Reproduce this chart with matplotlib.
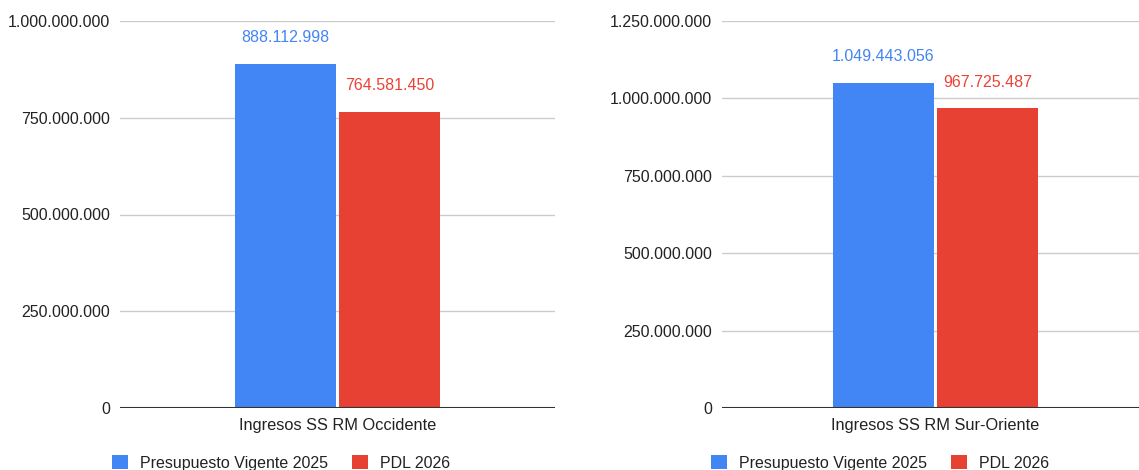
import matplotlib
matplotlib.use("Agg")
import matplotlib.pyplot as plt
from matplotlib.patches import Patch
from matplotlib.ticker import FuncFormatter

plt.rcParams['font.family'] = ['Liberation Sans', 'DejaVu Sans']

series = ["Presupuesto Vigente 2025", "PDL 2026"]
colors = ["#4285F4", "#E64133"]
label_colors = ["#4285F4", "#EA4335"]

categories_left = ["Ingresos SS RM Occidente"]
values_left = [888112998, 764581450]
ticks_left = [0, 250000000, 500000000, 750000000, 1000000000]

categories_right = ["Ingresos SS RM Sur-Oriente"]
values_right = [1049443056, 967725487]
ticks_right = [0, 250000000, 500000000, 750000000, 1000000000, 1250000000]

W, H = 1139, 470
fig = plt.figure(figsize=(W / 100, H / 100), dpi=100)

def fmt(v, _=None):
    return f"{int(round(v)):,}".replace(",", ".")

def draw(ax_rect, category, values, ticks, bar_w, off, legend_cx):
    ax = fig.add_axes(ax_rect)
    for i, (v, c, lc) in enumerate(zip(values, colors, label_colors)):
        x = -off if i == 0 else off
        ax.bar(x, v, width=bar_w, color=c, zorder=3)
        ax.annotate(fmt(v), (x, v), xytext=(0, 19), textcoords="offset points",
                    ha="center", va="center", color=lc, fontsize=11.5)
    ax.set_xlim(-0.5, 0.5)
    ax.set_ylim(0, ticks[-1])
    ax.set_yticks(ticks)
    ax.yaxis.set_major_formatter(FuncFormatter(fmt))
    ax.set_xticks([0])
    ax.set_xticklabels(category, fontsize=11.8)
    ax.tick_params(axis="both", length=0, labelcolor="#222222")
    ax.tick_params(axis="y", pad=7, labelsize=11.5)
    ax.tick_params(axis="x", pad=7)
    for s in ax.spines.values():
        s.set_visible(False)
    ax.grid(axis="y", color="#CCCCCC", linewidth=1, zorder=0)
    ax.axhline(0, color="#333333", linewidth=1.5, zorder=4)
    handles = [Patch(facecolor=c, edgecolor="none") for c in colors]
    fig.legend(handles, series, loc="center", ncol=2,
               bbox_to_anchor=(legend_cx / W, 1 - 463 / H), frameon=False,
               fontsize=11.5, handlelength=1.0, handleheight=1.0,
               handletextpad=0.75, columnspacing=1.5, labelcolor="#222222")
    return ax

bottom = (H - 408) / H
height = 387 / H
draw([120 / W, bottom, 435 / W, height], categories_left, values_left, ticks_left,
     0.232, 0.1195, 281)
draw([722 / W, bottom, 427 / W, height], categories_right, values_right, ticks_right,
     0.2365, 0.1218, 880)

fig.savefig("out.png", dpi=100, facecolor="white")
